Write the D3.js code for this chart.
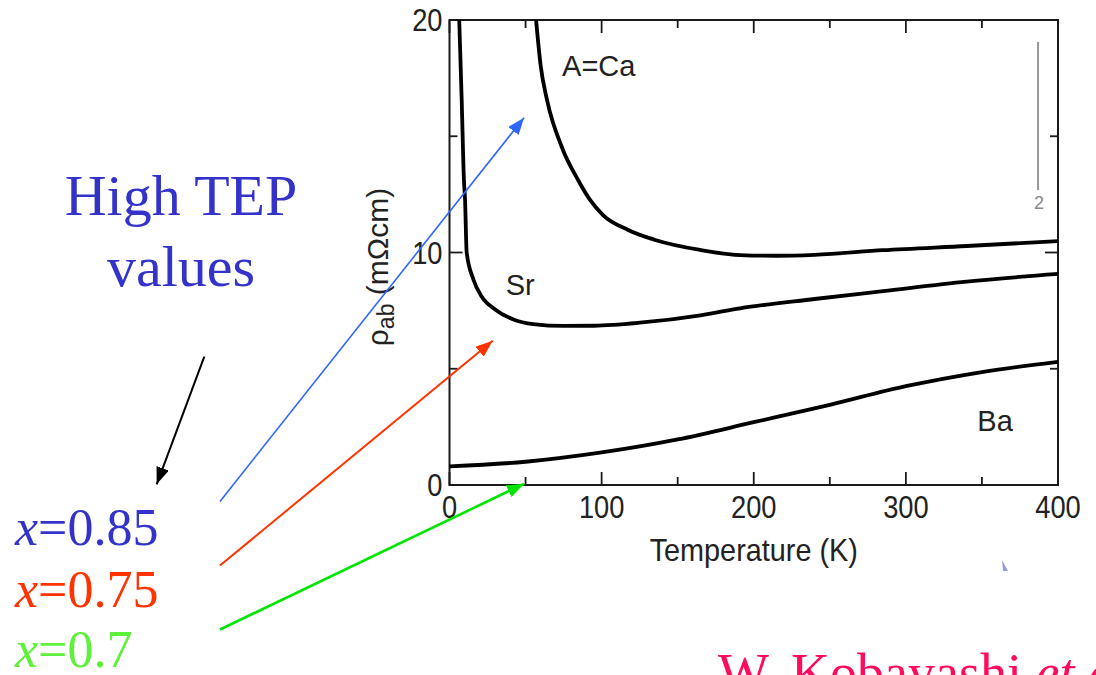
<!DOCTYPE html>
<html><head><meta charset="utf-8">
<script src="https://cdn.jsdelivr.net/npm/d3@7"></script>
<style>body{margin:0;background:#fff}svg{display:block}</style>
</head><body>
<svg id="c" width="1096" height="675"></svg>
<script>
// ---- data ----
const caT   = [56.9, 60, 64.1, 74.6, 84.5, 92.4, 100.9, 117.4, 135.2, 164.8, 191, 215, 240, 285, 340, 400];
const caRho = [20, 18.0, 16.56, 14.41, 13.12, 12.26, 11.61, 10.97, 10.54, 10.11, 9.89, 9.86, 9.9, 10.1, 10.28, 10.49];
const srT   = [6.4, 8, 9.5, 10.2, 11.3, 15.7, 21, 30, 42, 55, 75, 95, 125, 165, 191, 240, 285, 340, 400];
const srRho = [20, 16.6, 13.1, 12.3, 10.0, 8.84, 8.12, 7.55, 7.12, 6.92, 6.84, 6.85, 6.98, 7.3, 7.6, 8.0, 8.34, 8.75, 9.08];
const baT   = [0, 50, 100, 150, 200, 250, 300, 350, 400];
const baRho = [0.8, 1.0, 1.4, 1.96, 2.7, 3.45, 4.25, 4.86, 5.3];
const seriesNames = ["A=Ca", "Sr", "Ba"];
const labelT   = [74, 37, 347];
const labelRho = [17.6, 8.17, 2.32];
const xMajor = [0, 100, 200, 300, 400];
const xMinor = [50, 150, 250, 350];
const yMajor = [0, 10, 20];
const yMinor = [5, 15];
const xTitle = "Temperature (K)";
// annotation arrows: tips in data space
const arrowTipT   = [49, 28.4, 49];
const arrowTipRho = [15.8, 6.2, 0.05];
const arrowColors = ["#2f66ff", "#ff3300", "#00e600"];
const xLabels = ["0.85", "0.75", "0.7"];
const xLabelColors = ["#3333cc", "#ff3300", "#5ef03a"];

// ---- layout ----
const svg = d3.select("#c");
const L = 449.5, R = 1058, T = 20, B = 485;
const x = d3.scaleLinear().domain([0, 400]).range([L, R]);
const y = d3.scaleLinear().domain([0, 20]).range([B, T]);
const sans = "'Liberation Sans', Arial, Helvetica, sans-serif";
const serif = "'Liberation Serif', 'Times New Roman', serif";

const defs = svg.append("defs");
function marker(id, color, len, wid) {
  defs.append("marker").attr("id", id).attr("markerUnits", "userSpaceOnUse")
    .attr("viewBox", `0 0 ${len} ${wid}`).attr("refX", len).attr("refY", wid / 2)
    .attr("markerWidth", len).attr("markerHeight", wid).attr("orient", "auto")
    .append("path").attr("d", `M0,0L${len},${wid / 2}L0,${wid}Z`).attr("fill", color);
}
arrowColors.forEach((c, i) => marker("m" + i, c, 17, 13));
marker("mk", "#000", 17, 13);

// frame
svg.append("rect").attr("x", L).attr("y", T).attr("width", R - L).attr("height", B - T)
  .attr("fill", "none").attr("stroke", "#1a1a1a").attr("stroke-width", 2);

// ticks (inward, all four sides)
const tk = svg.append("g").attr("stroke", "#1a1a1a").attr("stroke-width", 1.8);
const MJ = 13, MN = 8;
xMajor.concat(xMinor).forEach(v => {
  const len = xMajor.includes(v) ? MJ : MN;
  tk.append("line").attr("x1", x(v)).attr("x2", x(v)).attr("y1", B).attr("y2", B - len);
  tk.append("line").attr("x1", x(v)).attr("x2", x(v)).attr("y1", T).attr("y2", T + len);
});
yMajor.concat(yMinor).forEach(v => {
  const len = yMajor.includes(v) ? MJ : MN;
  tk.append("line").attr("y1", y(v)).attr("y2", y(v)).attr("x1", L).attr("x2", L + len);
  tk.append("line").attr("y1", y(v)).attr("y2", y(v)).attr("x1", R).attr("x2", R - len);
});

// tick labels (narrow look: horizontally compressed)
const tl = svg.append("g").attr("font-family", sans).attr("font-size", 31).attr("fill", "#222");
xMajor.forEach(v => tl.append("text")
  .attr("transform", `translate(${x(v)},${B + 33}) scale(0.88,1)`)
  .attr("text-anchor", "middle").text(v));
yMajor.forEach(v => tl.append("text")
  .attr("transform", `translate(${L - 7},${y(v) + 11}) scale(0.88,1)`)
  .attr("text-anchor", "end").text(v));

// axis titles
svg.append("text").attr("transform", `translate(${(L + R) / 2},561) scale(0.93,1)`).attr("text-anchor", "middle")
  .attr("font-family", sans).attr("font-size", 31).attr("fill", "#222").text(xTitle);
const yt = svg.append("text").attr("transform", "translate(388,267) rotate(-90)").attr("text-anchor", "middle")
  .attr("font-family", sans).attr("font-size", 30).attr("fill", "#222");
yt.append("tspan").text("ρ");
yt.append("tspan").attr("font-size", 23).attr("dy", 6).text("ab");
yt.append("tspan").attr("dy", -6).text(" (mΩcm)");

// curves
const line = d3.line().x(d => x(d[0])).y(d => y(d[1])).curve(d3.curveMonotoneX);
const series = [d3.zip(caT, caRho), d3.zip(srT, srRho), d3.zip(baT, baRho)];
const clip = defs.append("clipPath").attr("id", "pc");
clip.append("rect").attr("x", L).attr("y", T - 1).attr("width", R - L).attr("height", B - T + 1);
svg.append("g").attr("clip-path", "url(#pc)").selectAll("path").data(series).join("path")
  .attr("d", line).attr("fill", "none").attr("stroke", "#000").attr("stroke-width", 3.8)
  .attr("stroke-linejoin", "round");

// series labels
seriesNames.forEach((n, i) => svg.append("text").attr("x", x(labelT[i])).attr("y", y(labelRho[i]))
  .attr("font-family", sans).attr("font-size", 29).attr("fill", "#222").text(n));

// stray artefacts of original figure
svg.append("line").attr("x1", 1038).attr("x2", 1038).attr("y1", 42).attr("y2", 190)
  .attr("stroke", "#333").attr("stroke-width", 1);
svg.append("text").attr("x", 1039).attr("y", 209).attr("text-anchor", "middle")
  .attr("font-family", sans).attr("font-size", 18).attr("fill", "#888").text("2");
svg.append("path").attr("d", "M1002,560L1008,571L1003,571Z").attr("fill", "#9a9ae0");

// left annotations
const ht = svg.append("g").attr("font-family", serif).attr("font-size", 58).attr("fill", "#3333cc")
  .attr("text-anchor", "middle");
ht.append("text").attr("x", 181).attr("y", 215).text("High TEP");
ht.append("text").attr("x", 181).attr("y", 286).text("values");

svg.append("line").attr("x1", 204.3).attr("y1", 356.7).attr("x2", 156.7).attr("y2", 484.3)
  .attr("stroke", "#000").attr("stroke-width", 2).attr("marker-end", "url(#mk)");

const starts = [[220, 501.5], [220, 565.5], [220, 629.5]];
const widths = [1.6, 2, 2.6];
starts.forEach((s, i) => {
  svg.append("line").attr("x1", s[0]).attr("y1", s[1])
    .attr("x2", x(arrowTipT[i])).attr("y2", y(arrowTipRho[i]))
    .attr("stroke", arrowColors[i]).attr("stroke-width", widths[i]).attr("marker-end", `url(#m${i})`);
});

const baselines = [545, 606.5, 667];
xLabels.forEach((v, i) => {
  const t = svg.append("text").attr("x", 15).attr("y", baselines[i]).attr("font-family", serif)
    .attr("font-size", 52).attr("fill", xLabelColors[i]);
  t.append("tspan").attr("font-style", "italic").text("x");
  t.append("tspan").text("=" + v);
});

// citation (cut off at the bottom edge, as in the source)
const cite = svg.append("text").attr("x", 718).attr("y", 691).attr("font-family", serif)
  .attr("font-size", 54).attr("fill", "#ff0a5e");
cite.append("tspan").text("W. Kobayashi ");
cite.append("tspan").attr("font-style", "italic").text("et al.");
</script>
</body></html>
